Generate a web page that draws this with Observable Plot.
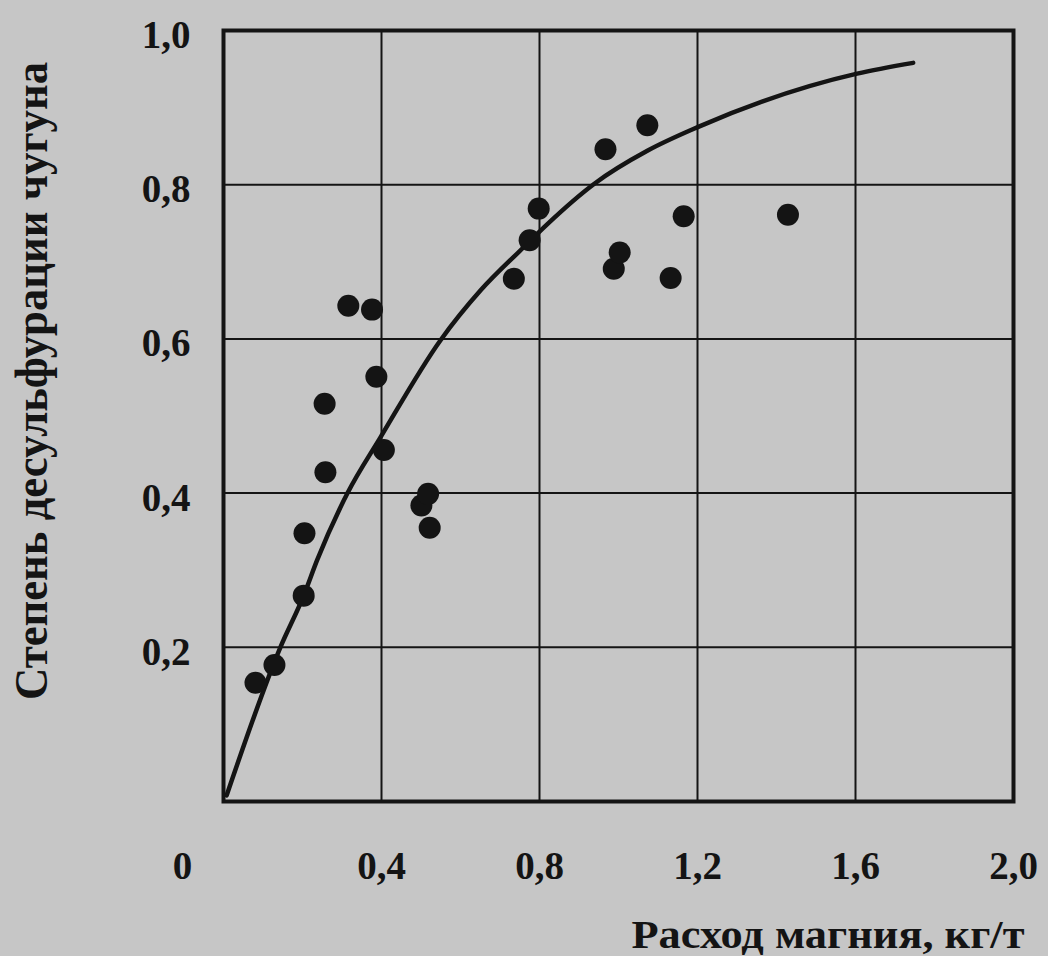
<!DOCTYPE html>
<html>
<head>
<meta charset="utf-8">
<script src="https://cdn.jsdelivr.net/npm/d3@7"></script>
<script src="https://cdn.jsdelivr.net/npm/@observablehq/plot@0.6"></script>
<style>
  html, body { margin: 0; padding: 0; background: #c6c6c6; }
  #chart { width: 1048px; height: 956px; }
</style>
</head>
<body>
<div id="chart"></div>
<script>
// Measured points: magnesium consumption (kg/t) vs desulfurization degree
const pointsX = [0.081, 0.129, 0.203, 0.205, 0.258, 0.256, 0.316, 0.376, 0.387, 0.406, 0.501, 0.518, 0.522, 0.735, 0.775, 0.798, 0.967, 1.073, 0.988, 1.003, 1.132, 1.165, 1.429];
const pointsY = [0.154, 0.177, 0.267, 0.348, 0.427, 0.516, 0.643, 0.638, 0.551, 0.456, 0.384, 0.399, 0.355, 0.678, 0.728, 0.769, 0.846, 0.877, 0.691, 0.712, 0.679, 0.759, 0.761];

// Fitted curve
const curveX = [0.008, 0.144, 0.203, 0.237, 0.314, 0.397, 0.549, 0.651, 0.752, 0.820, 0.938, 1.073, 1.202, 1.604, 1.746];
const curveY = [0.008, 0.200, 0.267, 0.313, 0.400, 0.472, 0.598, 0.663, 0.715, 0.749, 0.801, 0.844, 0.875, 0.944, 0.958];

// Tick labels
const xTicks = [0.4, 0.8, 1.2, 1.6, 2.0];
const yTicks = [0.2, 0.4, 0.6, 0.8, 1.0];
const xGrid = [0.4, 0.8, 1.2, 1.6];
const yGrid = [0.2, 0.4, 0.6, 0.8];
const originLabel = ["0"];

const xTitle = "Расход магния, кг/т";
const yTitle = "Степень десульфурации чугуна";

const points = pointsX.map((x, i) => ({x, y: pointsY[i]}));
const curve = curveX.map((x, i) => ({x, y: curveY[i]}));
const fmt = d => d.toFixed(1).replace(".", ",");
const FONT = "'Liberation Serif', 'DejaVu Serif', serif";

const chart = Plot.plot({
  width: 1048,
  height: 956,
  marginLeft: 223,
  marginRight: 35,
  marginTop: 30,
  marginBottom: 155,
  style: {background: "#c6c6c6", fontFamily: FONT, color: "#141414"},
  x: {domain: [0, 2]},
  y: {domain: [0, 1]},
  marks: [
    Plot.gridX(xGrid, {stroke: "#141414", strokeOpacity: 1, strokeWidth: 2}),
    Plot.gridY(yGrid, {stroke: "#141414", strokeOpacity: 1, strokeWidth: 2}),
    Plot.frame({stroke: "#141414", strokeWidth: 4}),
    Plot.line(curve, {x: "x", y: "y", curve: "monotone-x", stroke: "#141414", strokeWidth: 4.5}),
    Plot.dot(points, {x: "x", y: "y", r: 11, fill: "#141414", stroke: "none"}),
    Plot.axisX(xTicks, {tickSize: 0, tickPadding: 50, tickFormat: fmt, fontSize: 39, fontWeight: "bold", label: null}),
    Plot.text(originLabel, {x: 0, y: 0, text: d => d, dx: -41, dy: 50, lineAnchor: "top", fontSize: 39, fontWeight: "bold", fill: "#141414"}),
    Plot.axisY(yTicks, {tickSize: 0, tickPadding: 33, tickFormat: fmt, fontSize: 39, fontWeight: "bold", dy: 5, label: null})
  ]
});

document.getElementById("chart").appendChild(chart);

const svg = d3.select(chart);
svg.append("text")
  .attr("x", 828).attr("y", 948)
  .attr("text-anchor", "middle")
  .attr("font-family", FONT).attr("font-weight", "bold").attr("font-size", 41)
  .attr("fill", "#141414")
  .attr("textLength", 393).attr("lengthAdjust", "spacingAndGlyphs")
  .text(xTitle);
svg.append("text")
  .attr("transform", "translate(47,381) rotate(-90)")
  .attr("text-anchor", "middle")
  .attr("font-family", FONT).attr("font-weight", "bold").attr("font-size", 47)
  .attr("fill", "#141414")
  .attr("textLength", 638).attr("lengthAdjust", "spacingAndGlyphs")
  .text(yTitle);
</script>
</body>
</html>
